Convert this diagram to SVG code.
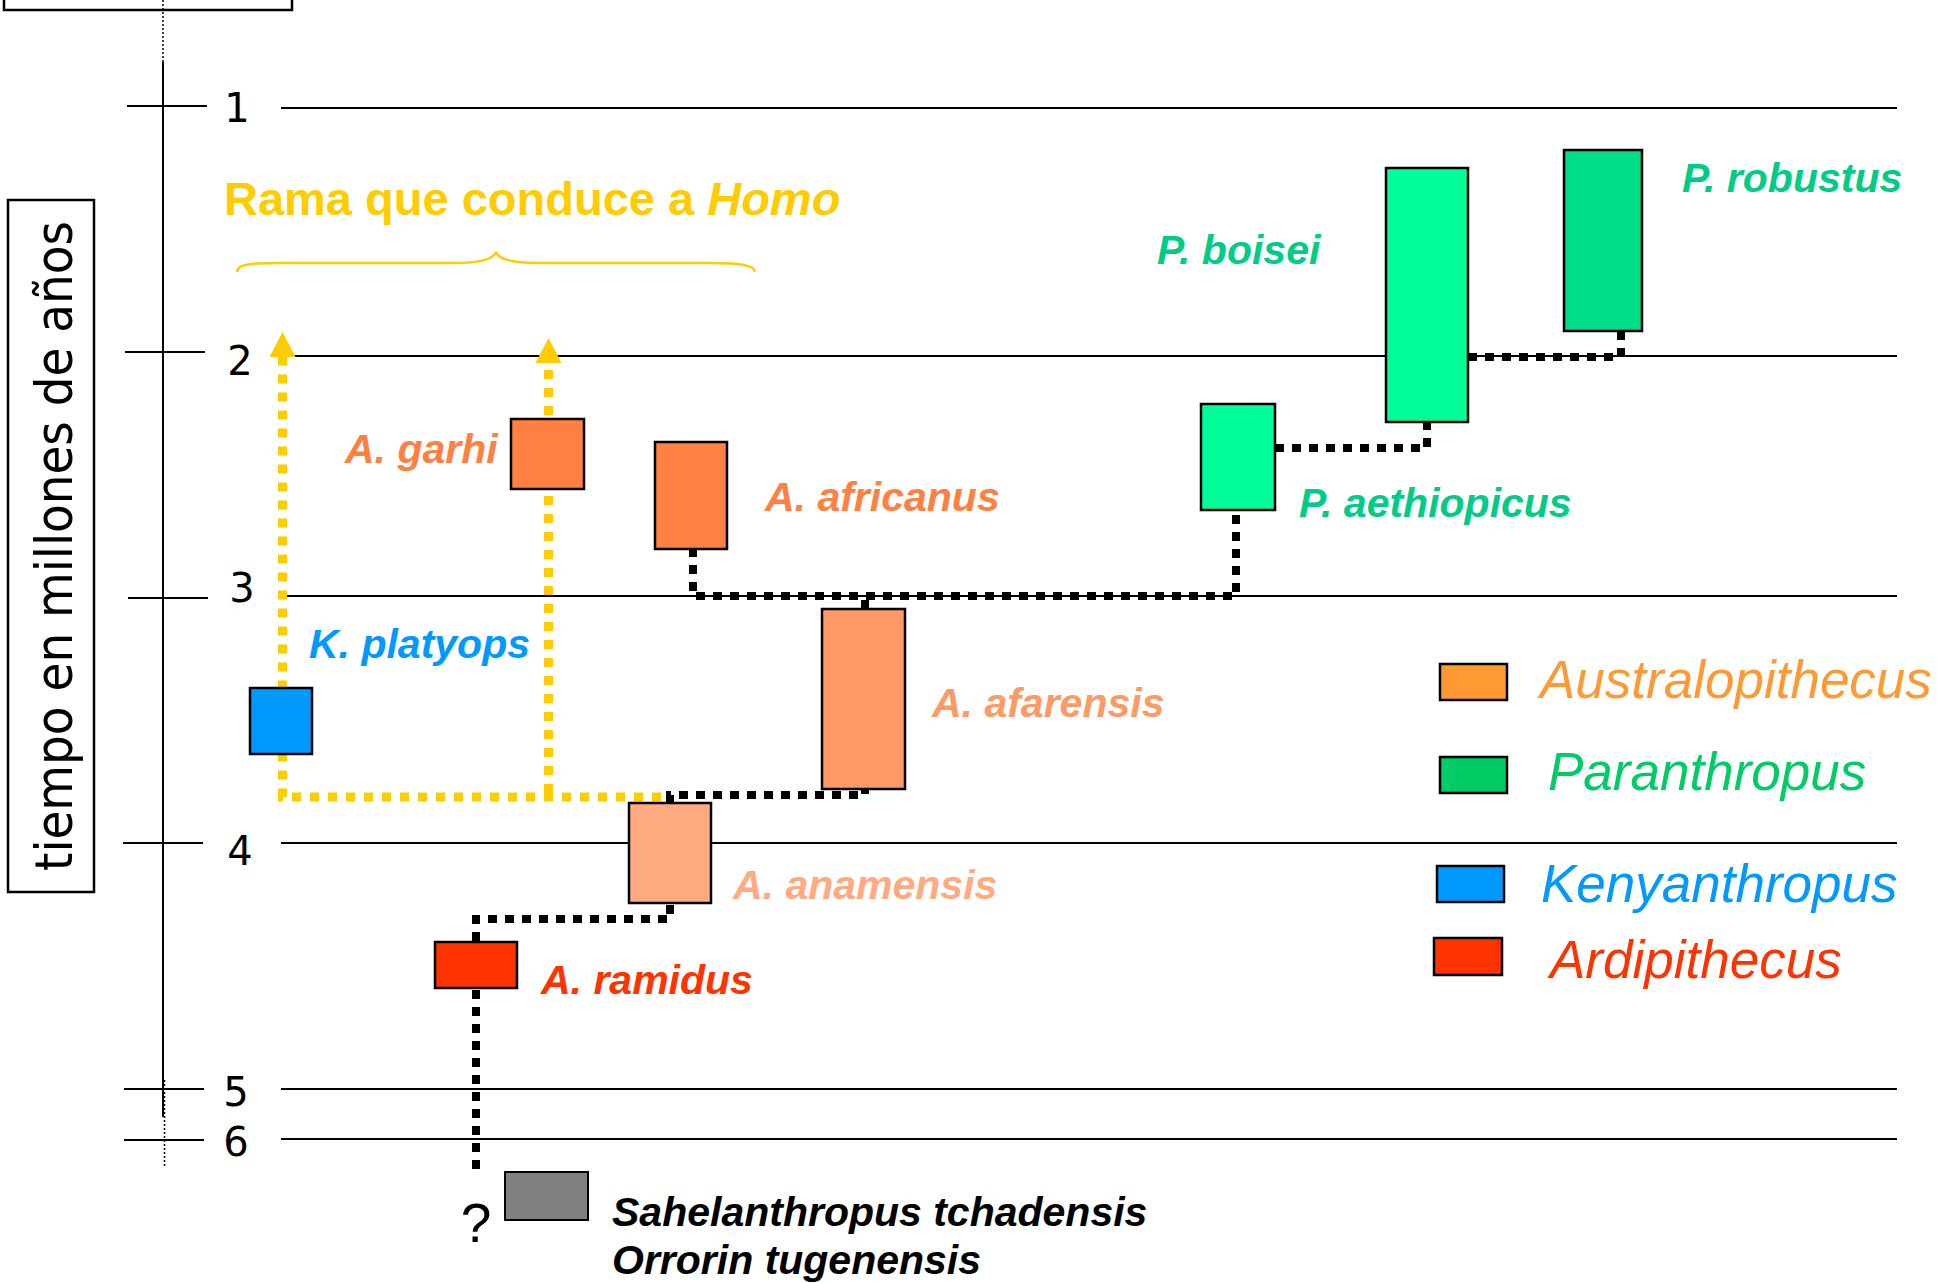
<svg xmlns="http://www.w3.org/2000/svg" width="1937" height="1283" viewBox="0 0 1937 1283">
<style>
.bg{fill:#ffffff}
.grid{stroke:#000;stroke-width:2;fill:none}
.tick{stroke:#000;stroke-width:2;fill:none}
.num{font-family:"DejaVu Sans","Liberation Sans",sans-serif;font-size:40px;fill:#000;text-anchor:middle}
.lbl{font-family:"Liberation Sans",Arial,sans-serif;font-size:41px;font-weight:bold;font-style:italic}
.leg{font-family:"Liberation Sans",Arial,sans-serif;font-size:53px;font-style:italic}
.box{stroke:#000;stroke-width:2.5}
.ylw{stroke:#FFCC00;stroke-width:9;stroke-dasharray:9 9;fill:none}
.blk{stroke:#000;stroke-width:8;stroke-dasharray:9 8;fill:none}
</style>
<defs>
<marker id="yarrow" viewBox="0 0 25 26" refX="0" refY="13" markerWidth="25" markerHeight="26" markerUnits="userSpaceOnUse" orient="auto">
<path d="M0,0 L25,13 L0,26 z" fill="#FFCC00"/>
</marker>
</defs>
<rect class="bg" x="0" y="0" width="1937" height="1283"/>

<g id="frame-top">
<rect x="4" y="-40" width="288" height="50" fill="none" stroke="#000" stroke-width="2.5"/>
</g>

<g id="axis">
<line x1="163" y1="0" x2="163" y2="62" stroke="#000" stroke-width="1.5" stroke-dasharray="2 2"/>
<line x1="163" y1="62" x2="163" y2="1117" stroke="#000" stroke-width="2"/>
<line x1="164.5" y1="1080" x2="164.5" y2="1168" stroke="#000" stroke-width="1.5" stroke-dasharray="2 2"/>
<line class="tick" x1="127" y1="106" x2="207" y2="106"/>
<line class="tick" x1="125" y1="352" x2="205" y2="352"/>
<line class="tick" x1="128" y1="598" x2="208" y2="598"/>
<line class="tick" x1="123" y1="843" x2="203" y2="843"/>
<line class="tick" x1="124" y1="1089" x2="204" y2="1089"/>
<line class="tick" x1="124" y1="1140" x2="204" y2="1140"/>
<text class="num" x="237" y="122">1</text>
<text class="num" x="240" y="375">2</text>
<text class="num" x="242" y="602">3</text>
<text class="num" x="240" y="865">4</text>
<text class="num" x="236" y="1106">5</text>
<text class="num" x="236" y="1156">6</text>
<rect x="8" y="200" width="86" height="692" fill="none" stroke="#000" stroke-width="2.5"/>
<text transform="translate(72,546) rotate(-90)" x="0" y="0" text-anchor="middle" font-family="DejaVu Sans, sans-serif" font-size="52" fill="#000" textLength="650" lengthAdjust="spacingAndGlyphs">tiempo en millones de años</text>
</g>

<g id="gridlines">
<line class="grid" x1="281" y1="108" x2="1897" y2="108"/>
<line class="grid" x1="281" y1="356" x2="1897" y2="356"/>
<line class="grid" x1="281" y1="596" x2="1897" y2="596"/>
<line class="grid" x1="281" y1="843" x2="1897" y2="843"/>
<line class="grid" x1="281" y1="1089" x2="1897" y2="1089"/>
<line class="grid" x1="281" y1="1139" x2="1897" y2="1139"/>
</g>

<g id="title">
<text x="224" y="215" font-family="Liberation Sans, Arial, sans-serif" font-size="47" font-weight="bold" fill="#FFCC00">Rama que conduce a <tspan font-style="italic">Homo</tspan></text>
<path d="M237,272 C237,264 252,263 280,263 L455,263 C482,263 492,259 496,253 C500,259 510,263 537,263 L712,263 C740,263 755,265 755,272" fill="none" stroke="#FFCC00" stroke-width="2.5"/>
</g>

<g id="connectors">
<path class="ylw" d="M661,797 H282.5 V357" marker-end="url(#yarrow)"/>
<path class="ylw" d="M548.5,793 V363" marker-end="url(#yarrow)"/>
<path class="blk" d="M476,990 V1175"/>
<path class="blk" d="M476,941 V919 H670 V903"/>
<path class="blk" d="M670,803 V795 H865 V789"/>
<path class="blk" d="M693,548 V596 H1236 V510"/>
<path class="blk" d="M865,609 V596"/>
<path class="blk" d="M1275,448 H1427 V422"/>
<path class="blk" d="M1468,357 H1621 V331"/>
</g>

<g id="A-garhi">
<rect class="box" x="511" y="419" width="73" height="70" fill="#FF8040"/>
<text class="lbl" x="345" y="463" fill="#FF8040">A. garhi</text>
</g>
<g id="A-africanus">
<rect class="box" x="655" y="442" width="72" height="107" fill="#FF8040"/>
<text class="lbl" x="765" y="511" fill="#FF8040">A. africanus</text>
</g>
<g id="A-afarensis">
<rect class="box" x="822" y="609" width="83" height="180" fill="#FF9966"/>
<text class="lbl" x="932" y="717" fill="#FF9966">A. afarensis</text>
</g>
<g id="A-anamensis">
<rect class="box" x="629" y="803" width="82" height="100" fill="#FFAA80"/>
<text class="lbl" x="733" y="899" fill="#FFAA80">A. anamensis</text>
</g>
<g id="A-ramidus">
<rect class="box" x="435" y="942" width="82" height="46" fill="#FF3300"/>
<text class="lbl" x="541" y="994" fill="#FF3300">A. ramidus</text>
</g>
<g id="K-platyops">
<rect class="box" x="250" y="688" width="62" height="66" fill="#0099FF"/>
<text class="lbl" x="309" y="658" fill="#0099FF">K. platyops</text>
</g>
<g id="P-aethiopicus">
<rect class="box" x="1201" y="404" width="74" height="106" fill="#00FF99"/>
<text class="lbl" x="1299" y="517" fill="#00CC88">P. aethiopicus</text>
</g>
<g id="P-boisei">
<rect class="box" x="1386" y="168" width="82" height="254" fill="#00FF99"/>
<text class="lbl" x="1157" y="264" fill="#00CC88">P. boisei</text>
</g>
<g id="P-robustus">
<rect class="box" x="1564" y="150" width="78" height="181" fill="#00DD88"/>
<text class="lbl" x="1682" y="192" fill="#00CC88">P. robustus</text>
</g>
<g id="Sahelanthropus-Orrorin">
<rect x="505" y="1172" width="83" height="48" fill="#808080" stroke="#000" stroke-width="2"/>
<text x="476" y="1242" text-anchor="middle" font-family="Liberation Sans, Arial, sans-serif" font-size="55" fill="#000">?</text>
<text class="lbl" x="612" y="1226" fill="#000">Sahelanthropus tchadensis</text>
<text class="lbl" x="612" y="1274" fill="#000">Orrorin tugenensis</text>
</g>

<g id="legend">
<g id="legend-australopithecus">
<rect class="box" x="1440" y="664" width="67" height="36" fill="#FF9933"/>
<text class="leg" x="1540" y="698" fill="#FF9933">Australopithecus</text>
</g>
<g id="legend-paranthropus">
<rect class="box" x="1440" y="757" width="67" height="36" fill="#00CC66"/>
<text class="leg" x="1548" y="790" fill="#00CC66">Paranthropus</text>
</g>
<g id="legend-kenyanthropus">
<rect class="box" x="1437" y="866" width="67" height="36" fill="#0099FF"/>
<text class="leg" x="1541" y="902" fill="#0099FF">Kenyanthropus</text>
</g>
<g id="legend-ardipithecus">
<rect class="box" x="1434" y="938" width="68" height="37" fill="#FF3300"/>
<text class="leg" x="1550" y="978" fill="#FF3300">Ardipithecus</text>
</g>
</g>
</svg>
